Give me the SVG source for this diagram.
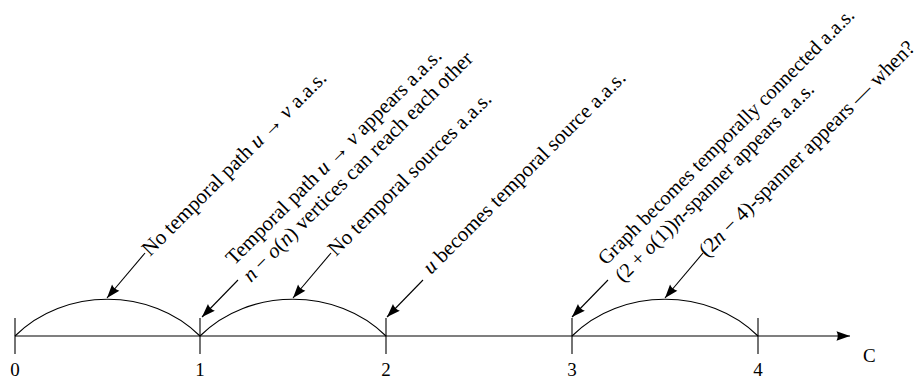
<svg xmlns="http://www.w3.org/2000/svg" width="921" height="381" viewBox="0 0 921 381">
<defs>
<style>
.ln{fill:none;stroke:#000;stroke-width:1.1}
.tx{font-family:'Liberation Serif','DejaVu Serif',serif;font-size:21px;fill:#000}
.txs{font-family:'Liberation Serif','DejaVu Serif',serif;font-size:20.3px;fill:#000}
.num{font-family:'Liberation Serif','DejaVu Serif',serif;font-size:19px;fill:#000}
.it{font-style:italic}
</style>
<marker id="ah" markerUnits="userSpaceOnUse" markerWidth="16" markerHeight="12" viewBox="-14 -6 16 12" refX="0" refY="0" orient="auto">
<path d="M0,0 L-13.5,-4.8 Q-11,0 -13.5,4.8 Z" fill="#000"/>
</marker>
</defs>
<rect width="921" height="381" fill="#fff"/>
<g id="axis">
<line class="ln" x1="15" y1="336" x2="850" y2="336" marker-end="url(#ah)"/>
<line class="ln" x1="15" y1="318" x2="15" y2="354"/>
<line class="ln" x1="200" y1="318" x2="200" y2="354"/>
<line class="ln" x1="386" y1="318" x2="386" y2="354"/>
<line class="ln" x1="572" y1="318" x2="572" y2="354"/>
<line class="ln" x1="758" y1="318" x2="758" y2="354"/>
<text class="num" x="15" y="376" text-anchor="middle">0</text>
<text class="num" x="200" y="376" text-anchor="middle">1</text>
<text class="num" x="386" y="376" text-anchor="middle">2</text>
<text class="num" x="572" y="376" text-anchor="middle">3</text>
<text class="num" x="758" y="376" text-anchor="middle">4</text>
<text class="num" x="863" y="362">C</text>
</g>
<g id="arcs">
<path class="ln" d="M15,336 C64,287 151,287 200,336"/>
<path class="ln" d="M200,336 C249,287 337,287 386,336"/>
<path class="ln" d="M572,336 C621,287 709,287 758,336"/>
</g>
<g id="connectors">
<line class="ln" x1="145" y1="253" x2="107" y2="298" marker-end="url(#ah)"/>
<line class="ln" x1="238" y1="280" x2="202" y2="317" marker-end="url(#ah)"/>
<line class="ln" x1="331" y1="253" x2="293" y2="298" marker-end="url(#ah)"/>
<line class="ln" x1="423" y1="280" x2="387" y2="317" marker-end="url(#ah)"/>
<line class="ln" x1="608" y1="280" x2="572" y2="317" marker-end="url(#ah)"/>
<line class="ln" x1="703" y1="253" x2="665" y2="298" marker-end="url(#ah)"/>
</g>
<g id="labelA" transform="translate(150,257) rotate(-45)">
<text class="tx" x="0" y="0">No temporal path <tspan class="it">u</tspan> → <tspan class="it">v</tspan> a.a.s.</text>
</g>
<g id="labelB" transform="translate(234,266) rotate(-45)">
<text class="tx" x="0" y="0">Temporal path <tspan class="it">u</tspan> → <tspan class="it">v</tspan> appears a.a.s.</text>
<text class="tx" x="0" y="24"><tspan class="it">n</tspan> − <tspan class="it">o</tspan>(<tspan class="it">n</tspan>) vertices can reach each other</text>
</g>
<g id="labelC" transform="translate(336,257) rotate(-45)">
<text class="tx" x="0" y="0">No temporal sources a.a.s.</text>
</g>
<g id="labelD" transform="translate(431,275) rotate(-45)">
<text class="tx" x="0" y="0"><tspan class="it">u</tspan> becomes temporal source a.a.s.</text>
</g>
<g id="labelE" transform="translate(606,266) rotate(-45)">
<text class="txs" x="0" y="0">Graph becomes temporally connected a.a.s.</text>
<text class="txs" x="0" y="24">(2 + <tspan class="it">o</tspan>(1))<tspan class="it">n</tspan>-spanner appears a.a.s.</text>
</g>
<g id="labelF" transform="translate(707,258) rotate(-45)">
<text class="tx" x="0" y="0">(2<tspan class="it">n</tspan> − 4)-spanner appears — when?</text>
</g>
</svg>
